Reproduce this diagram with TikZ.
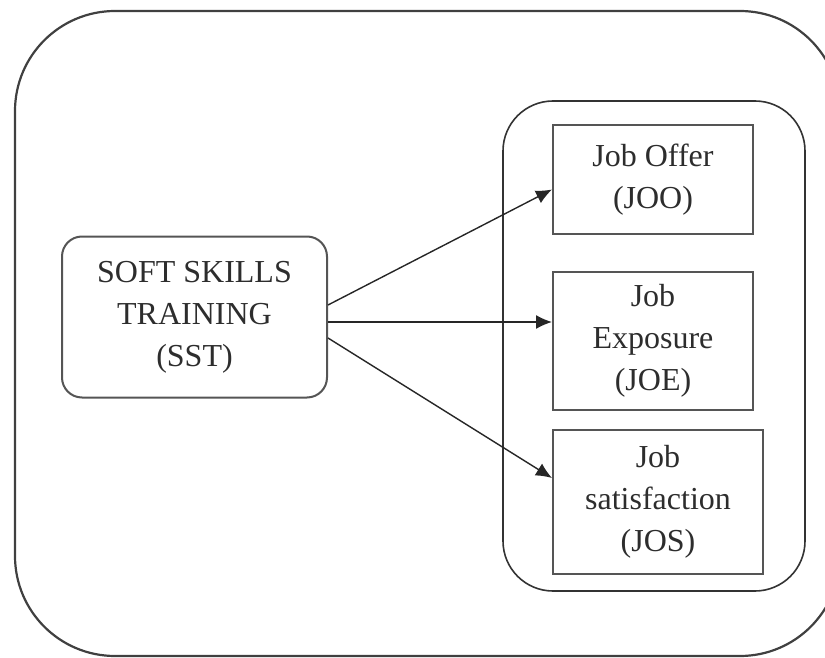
\documentclass[tikz,border=0pt]{standalone}
\usepackage{fontspec}
\setmainfont{Liberation Serif}
\usetikzlibrary{arrows.meta,positioning}
\definecolor{myline}{RGB}{85,85,85}
\definecolor{mytext}{RGB}{45,45,45}

\begin{document}
\begin{tikzpicture}[x=0.5pt,y=-0.5pt,
    outcome/.style={draw=myline,line width=1pt,align=center,text=mytext,
      font=\fontsize{16}{21}\selectfont,inner sep=0pt},
    link/.style={-{Latex[length=8pt,width=7pt]},line width=0.7pt,black!85}]
  \useasboundingbox (0,0) rectangle (825,658);
  \clip (0,0) rectangle (825,658);
  % frame and group
  \draw[line width=1.1pt,black!75,rounded corners=50pt] (15,11) rectangle (840,656);
  \node (grp) [draw=black!80,line width=0.8pt,rounded corners=25pt,
    minimum width=151pt,minimum height=245pt] at (654,346) {};

  \node (sst) [outcome,rounded corners=10pt,minimum width=132.5pt,minimum height=80.5pt]
    at (194.5,317) {SOFT SKILLS\\TRAINING\\(SST)};

  \foreach \n/\x/\y/\w/\h/\t in {joo/653/179.5/100/54.5/{Job Offer\\(JOO)},
      joe/653/341/100/69/{Job\\Exposure\\(JOE)},
      jos/658/502/105/72/{Job\\satisfaction\\(JOS)}}
    \node (\n) [outcome,minimum width=\w pt,minimum height=\h pt] at (\x,\y) {\t};

  \draw[link] ([yshift=6pt]sst.east) -- ([yshift=-5pt]joo.west);
  \draw[link] ([yshift=-2.5pt]sst.east) -- ([yshift=9.5pt]joe.west);
  \draw[link] ([yshift=-10.5pt]sst.east) -- ([yshift=12pt]jos.west);
\end{tikzpicture}
\end{document}
